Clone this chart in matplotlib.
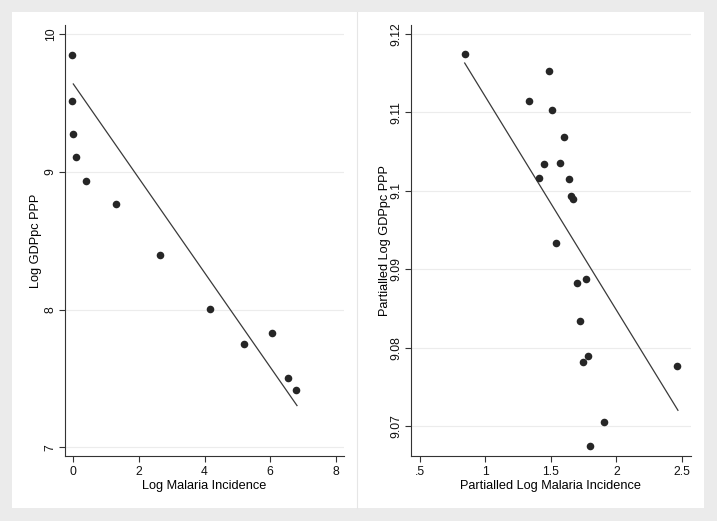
import matplotlib
matplotlib.use("Agg")
import matplotlib.pyplot as plt
from matplotlib.patches import Rectangle
from matplotlib.lines import Line2D

plt.rcParams['font.family'] = ['Liberation Sans', 'DejaVu Sans']

# left panel: raw data
log_malaria = [-0.03, -0.03, -0.01, 0.07, 0.38, 1.31, 2.64, 4.16, 5.19, 6.06, 6.54, 6.80]
log_gdp = [9.848, 9.514, 9.277, 9.110, 8.935, 8.768, 8.395, 8.007, 7.750, 7.828, 7.504, 7.417]
fit_left_x = [0.0, 6.82]
fit_left_y = [9.637, 7.303]
left_xticks = [0, 2, 4, 6, 8]
left_yticks = [7, 8, 9, 10]
left_yticklabels = ['7', '8', '9', '10']

# right panel: partialled data
part_malaria = [0.843, 1.483, 1.333, 1.511, 1.602, 1.450, 1.569, 1.407, 1.636, 1.653,
                1.671, 1.537, 1.699, 1.765, 1.722, 1.780, 1.742, 2.461, 1.902, 1.798]
part_gdp = [9.1174, 9.1153, 9.1115, 9.1103, 9.1069, 9.1034, 9.1036, 9.1016, 9.1015, 9.0994,
            9.0990, 9.0933, 9.0883, 9.0888, 9.0834, 9.0789, 9.0781, 9.0776, 9.0705, 9.0674]
fit_right_x = [0.843, 2.469]
fit_right_y = [9.1163, 9.0720]
right_xticks = [0.5, 1.0, 1.5, 2.0, 2.5]
right_xticklabels = ['.5', '1', '1.5', '2', '2.5']
right_yticks = [9.07, 9.08, 9.09, 9.10, 9.11, 9.12]
right_yticklabels = ['9.07', '9.08', '9.09', '9.1', '9.11', '9.12']

W, H = 717, 521
fig = plt.figure(figsize=(W / 100, H / 100), dpi=100)
fig.patch.set_facecolor('#ebebeb')

# white plot region with thin separator (drawn behind the axes)
fig.patches.append(Rectangle((12 / W, 1 - 508 / H), (704 - 12) / W, (508 - 12) / H,
                             transform=fig.transFigure, facecolor='white', edgecolor='none', zorder=-2))
fig.lines.append(Line2D([357 / W, 357 / W], [1 - 508 / H, 1 - 12 / H],
                        transform=fig.transFigure, color='#e6e6e6', lw=0.8, zorder=-1))

FS = 8.7
LFS = 9.2
ax_col = '#333333'


def style_axis(ax):
    ax.set_facecolor('none')
    for s in ['top', 'right']:
        ax.spines[s].set_visible(False)
    for s in ['left', 'bottom']:
        ax.spines[s].set_color(ax_col)
        ax.spines[s].set_linewidth(0.8)
    ax.tick_params(axis='both', direction='out', length=4, width=0.8, color=ax_col,
                   labelsize=FS, labelcolor='#111111')
    ax.tick_params(axis='y', pad=2)
    ax.tick_params(axis='x', pad=3)
    for lab in ax.get_yticklabels():
        lab.set_rotation(90)
        lab.set_va('center')
    ax.grid(axis='y', color='#ececec', lw=0.8)
    ax.set_axisbelow(True)


def axes_px(x0, x1, y_top, y_bot):
    return fig.add_axes([x0 / W, 1 - y_bot / H, (x1 - x0) / W, (y_bot - y_top) / H])


# left panel
ax1 = axes_px(65, 344, 25, 456)
ax1.scatter(log_malaria, log_gdp, s=30, color='#262626', zorder=3, linewidths=0)
ax1.plot(fit_left_x, fit_left_y, color='#3a3a3a', lw=0.9, zorder=2)
ax1.set_xlim(-0.253, 8.253)
ax1.set_ylim(6.937, 10.065)
ax1.set_xticks(left_xticks)
ax1.set_yticks(left_yticks)
ax1.set_yticklabels(left_yticklabels)
ax1.set_xlabel('Log Malaria Incidence', fontsize=LFS, labelpad=2)
ax1.set_ylabel('Log GDPpc PPP', fontsize=LFS, labelpad=2)
style_axis(ax1)

# right panel
ax2 = axes_px(411, 691, 25, 456)
ax2.scatter(part_malaria, part_gdp, s=30, color='#262626', zorder=3, linewidths=0)
ax2.plot(fit_right_x, fit_right_y, color='#3a3a3a', lw=0.9, zorder=2)
ax2.set_xlim(0.4337, 2.5686)
ax2.set_ylim(9.06617, 9.12115)
ax2.set_xticks(right_xticks)
ax2.set_xticklabels(right_xticklabels)
ax2.set_yticks(right_yticks)
ax2.set_yticklabels(right_yticklabels)
ax2.set_xlabel('Partialled Log Malaria Incidence', fontsize=LFS, labelpad=2)
ax2.set_ylabel('Partialled Log GDPpc PPP', fontsize=LFS, labelpad=0)
style_axis(ax2)

fig.savefig('out.png', dpi=100, facecolor=fig.get_facecolor())
